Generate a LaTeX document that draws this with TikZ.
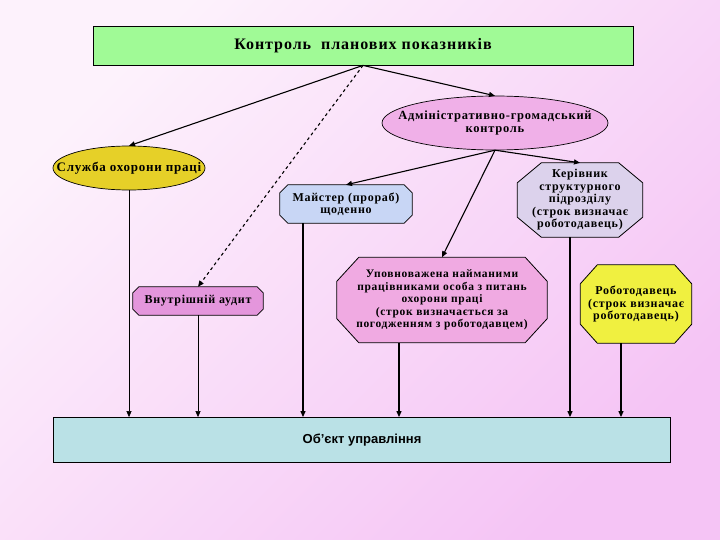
\documentclass[tikz,border=0pt]{standalone}
\usepackage{fontspec}
\setmainfont{Liberation Serif}
\setsansfont{Liberation Sans}
\newfontfamily\wideserif[LetterSpace=6]{Liberation Serif}
\usetikzlibrary{shapes.geometric, arrows.meta, positioning, calc}

\definecolor{bglight}{RGB}{253,242,252}
\definecolor{bgpink}{RGB}{245,196,245}
\definecolor{plangreen}{RGB}{160,250,150}
\definecolor{adminpink}{RGB}{240,176,232}
\definecolor{safetyyellow}{RGB}{230,208,40}
\definecolor{masterblue}{RGB}{200,214,245}
\definecolor{headlilac}{RGB}{220,210,236}
\definecolor{auditviolet}{RGB}{228,150,220}
\definecolor{trustpink}{RGB}{240,170,226}
\definecolor{bossyellow}{RGB}{240,240,64}
\definecolor{objteal}{RGB}{186,225,230}

\pgfdeclarelayer{back}
\pgfdeclarelayer{frames}
\pgfsetlayers{back,frames,main}

% octagon behind a rectangular node: node, chamfer x, chamfer y, fill
\newcommand\octaframe[4]{%
  \filldraw[fill=#4, line width=0.8pt]
    ($(#1.north west)+(#2,0)$) -- ($(#1.north east)-(#2,0)$) --
    ($(#1.north east)-(0,#3)$) -- ($(#1.south east)+(0,#3)$) --
    ($(#1.south east)-(#2,0)$) -- ($(#1.south west)+(#2,0)$) --
    ($(#1.south west)+(0,#3)$) -- ($(#1.north west)-(0,#3)$) -- cycle;}
% ellipse behind a node: node, x radius, y radius, fill
\newcommand\ovalframe[4]{%
  \filldraw[fill=#4, line width=0.7pt] (#1.center) ellipse [x radius=#2, y radius=#3];}

\begin{document}
\begin{tikzpicture}[
    x=1pt, y=1pt,
    every node/.style={font=\wideserif\bfseries\fontsize{12}{12.5}\selectfont, align=center, inner sep=1pt},
    plainbox/.style={rectangle, draw, line width=0.8pt},
    oval/.style={rectangle, inner sep=0pt},
    octa/.style={rectangle, inner sep=0pt},
    arrow/.style={-{Triangle[length=6pt, width=5pt]}, line width=1.1pt},
    thinarrow/.style={-{Triangle[length=6pt, width=5pt]}, line width=0.6pt}
]
    % background
    \begin{pgfonlayer}{back}
    \shade[top color=bglight, bottom color=bgpink, shading angle=45] (0,0) rectangle (720,-540);
    \end{pgfonlayer}
    \useasboundingbox (0,0) rectangle (720,-540);

    % top level
    \node[plainbox, fill=plangreen, minimum width=540pt, minimum height=39pt,
          font=\wideserif\bfseries\fontsize{16}{17}\selectfont] (plan) at (363,-45.5) {Контроль\ \ планових показників};
    \node[oval, minimum width=225pt, minimum height=54pt,
          font=\wideserif\bfseries\fontsize{12.5}{13}\selectfont] (admin) at (495,-123) {Адміністративно-громадський\\контроль};
    \node[oval, minimum width=152pt, minimum height=44pt,
          font=\wideserif\bfseries\fontsize{13}{14}\selectfont] (safety) at (129,-168) {Служба охорони праці};

    % second level
    \node[octa, minimum width=132pt, minimum height=38pt] (master) at (346,-204) {Майстер (прораб)\\щоденно};
    \node[octa, minimum width=125pt, minimum height=74pt] (head) at (580,-200) {Керівник\\структурного\\підрозділу\\(строк визначає\\роботодавець)};
    \node[octa, minimum width=130pt, minimum height=28pt] (audit) at (198,-301) {Внутрішній аудит};
    \node[octa, minimum width=210pt, minimum height=85pt,
          font=\wideserif\bfseries\fontsize{11.5}{12.5}\selectfont] (trust) at (442,-300) {Уповноважена найманими\\працівниками особа з питань\\охорони праці\\(строк визначається за\\погодженням з роботодавцем)};
    \node[octa, minimum width=111pt, minimum height=78pt] (boss) at (636,-304) {Роботодавець\\(строк визначає\\роботодавець)};

    \begin{pgfonlayer}{frames}
    \ovalframe{admin}{113}{27}{adminpink}
    \ovalframe{safety}{76}{22}{safetyyellow}
    \octaframe{master}{8}{8}{masterblue}
    \octaframe{head}{24}{20}{headlilac}
    \octaframe{audit}{6}{6}{auditviolet}
    \octaframe{trust}{22}{24}{trustpink}
    \octaframe{boss}{17}{19}{bossyellow}
    \end{pgfonlayer}

    % object
    \node[plainbox, fill=objteal, minimum width=617pt, minimum height=45pt,
          font=\sffamily\bfseries\fontsize{13}{14}\selectfont] (obj) at (362,-440) {Об’єкт управління};

    % arrows from the top
    \draw[arrow] (plan.south) -- (admin.north);
    \draw[arrow] (plan.south) -- (safety.north);
    \draw[arrow, dashed] (plan.south) -- (audit.north);
    \draw[arrow] (admin.south) -- (master.north);
    \draw[arrow] (admin.south) -- (trust.north);
    \draw[arrow] (admin.south) -- (head.north);

    % feet down to the object
    \coordinate (masterfoot) at ([xshift=-43pt]master.south);
    \coordinate (trustfoot) at ([xshift=-43pt]trust.south);
    \coordinate (headfoot) at ([xshift=-10pt]head.south);
    \coordinate (bossfoot) at ([xshift=-15pt]boss.south);
    \draw[thinarrow] (safety.south) -- (safety.south |- obj.north);
    \draw[thinarrow] (audit.south) -- (audit.south |- obj.north);
    \draw[arrow] (masterfoot) -- (masterfoot |- obj.north);
    \draw[arrow] (trustfoot) -- (trustfoot |- obj.north);
    \draw[arrow] (headfoot) -- (headfoot |- obj.north);
    \draw[arrow] (bossfoot) -- (bossfoot |- obj.north);
\end{tikzpicture}
\end{document}
